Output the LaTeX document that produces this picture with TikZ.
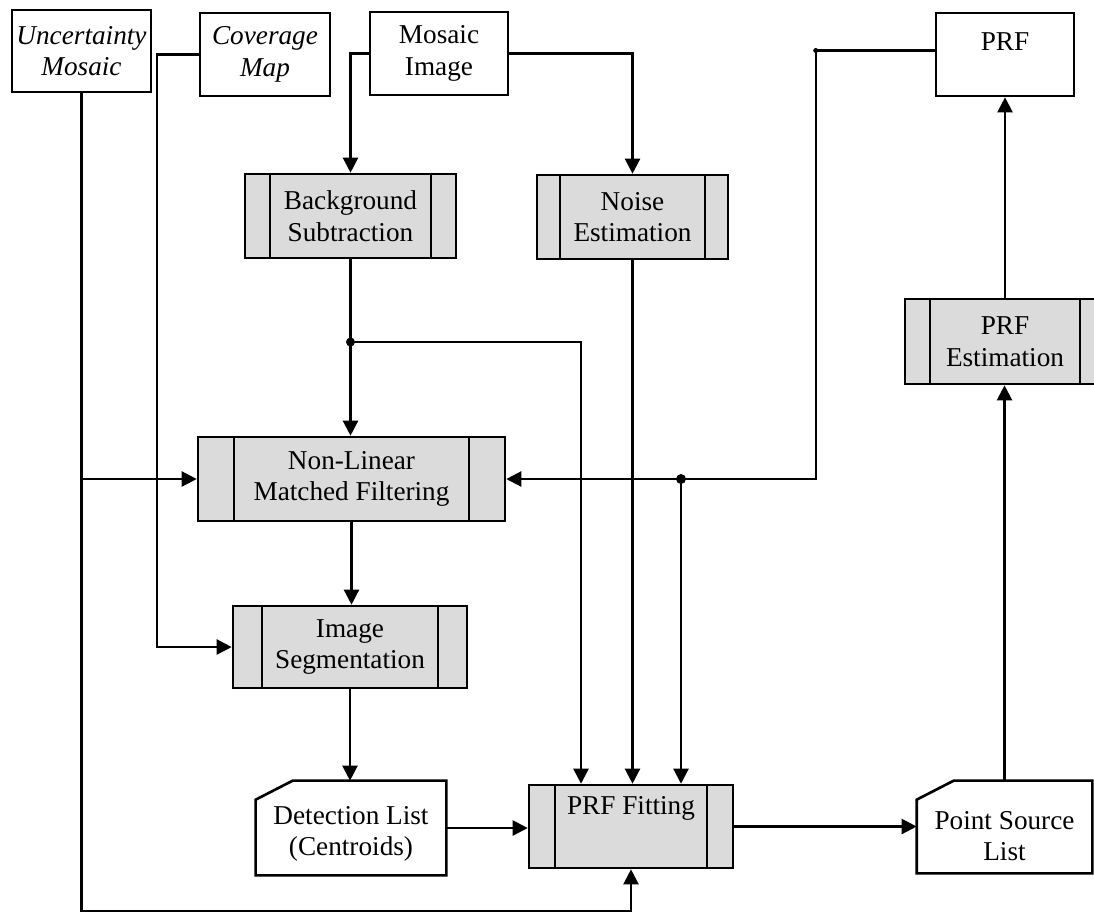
\documentclass[tikz,border=0pt]{standalone}
\usepackage{fontspec}
\setmainfont{Liberation Serif}
\usetikzlibrary{calc, arrows.meta}
\definecolor{boxgray}{gray}{0.86}
\newcommand{\boxfont}{\fontsize{15.5}{18}\selectfont}
\tikzset{
  sidebar/.store in=\sidebarw, sidebar=0.5cm,
  datbox/.style={draw, line width=1.5pt, fill=white, inner xsep=2pt, minimum width=2.76cm, minimum height=1.66cm, align=center},
  procbox/.style={draw, line width=1.5pt, fill=boxgray, minimum height=1.68cm, align=center,
    path picture={\draw[line width=1.5pt]
      ([xshift=\sidebarw]path picture bounding box.north west) -- ([xshift=\sidebarw]path picture bounding box.south west)
      ([xshift=-\sidebarw]path picture bounding box.north east) -- ([xshift=-\sidebarw]path picture bounding box.south east);}},
  docbox/.style={minimum width=3.8cm, minimum height=1.88cm},
  conn/.style={line width=1.3pt},
  arr/.style={conn, -{Triangle[length=0.3cm, width=0.3cm]}}
}
\begin{document}
\begin{tikzpicture}[x=0.02cm, y=-0.02cm, font=\boxfont]
  \useasboundingbox (0,0) rectangle (1094,914);
  \clip (0,0) rectangle (1094,914);
  % inputs
  \node[datbox, minimum width=2.78cm, minimum height=1.64cm, font=\boxfont\itshape] (unc) at (81.5,51) {Uncertainty\\Mosaic};
  \node[datbox, minimum width=2.6cm, font=\boxfont\itshape] (cov) at (265,54.5) {Coverage\\Map};
  \node[datbox] (mos) at (439,53.5) {Mosaic\\Image};
  \node[datbox, label={[yshift=0.25cm]center:PRF}] (prf) at (1005,54.5) {};
  % processes
  \node[procbox, minimum width=4.22cm] (bgs) at (350.5,216) {Background\\Subtraction};
  \node[procbox, minimum width=3.82cm, sidebar=0.46cm] (noi) at (632.5,217) {Noise\\Estimation};
  \node[procbox, minimum width=6.14cm, sidebar=0.72cm] (nlm) at (351.5,479) {Non-Linear\\Matched Filtering};
  \node[procbox, minimum width=4.68cm, minimum height=1.64cm, sidebar=0.58cm] (seg) at (350,647) {Image\\Segmentation};
  \node[procbox, minimum width=4.08cm, minimum height=1.66cm, sidebar=0.52cm, label={[yshift=0.37cm]center:PRF Fitting}] (fit) at (631,826.5) {};
  \node[procbox, minimum width=4cm, minimum height=1.7cm] (est) at (1005,341.5) {PRF\\Estimation};
  % lists
  \node[docbox, label={[align=center, yshift=-0.12cm]center:{Detection List\\(Centroids)}}] (det) at (351,828) {};
  \node[docbox, minimum width=3.5cm, minimum height=1.84cm, label={[align=center, yshift=-0.18cm]center:{Point Source\\List}}] (psl) at (1004.5,827) {};
  \foreach \n in {det,psl}{
    \draw[line width=1.5pt] ([yshift=-0.38cm]\n.north west) -- ([xshift=0.74cm]\n.north west) -- (\n.north east)
      -- (\n.south east) -- (\n.south west) -- cycle;
  }
  % junctions
  \coordinate (j1) at (bgs.south |- 0,342);
  \coordinate (j2) at ([xshift=1cm]fit.north |- nlm.east);
  \coordinate (k) at ([yshift=0.08cm]prf.west);
  % connectors
  \draw[arr] (unc.south) -- (unc.south |- 0,911) -| (fit.south);
  \draw[arr] (unc.south |- nlm.west) -- (nlm.west);
  \draw[arr] (cov.west) -- ++(-42,0) |- (seg.west);
  \draw[arr] (mos.west) -| (bgs.north);
  \draw[arr] (mos.east) -| (noi.north);
  \draw[arr] (bgs.south) -- (bgs.south |- nlm.north);
  \draw[arr] (j1) -| ([xshift=-1cm]fit.north);
  \draw[arr] (noi.south) -- (noi.south |- fit.north);
  \draw[arr] (k) -- ++(-119,0) |- (nlm.east);
  \draw[arr] (j2) -- ([xshift=1cm]fit.north);
  \draw[arr] (nlm.south) -- (nlm.south |- seg.north);
  \draw[arr] (seg.south) -- (seg.south |- det.north);
  \draw[arr] (det.east) -- (det.east -| fit.west);
  \draw[arr] (fit.east) -- (fit.east -| psl.west);
  \draw[arr] (psl.north) -- (psl.north |- est.south);
  \draw[arr] (est.north) -- (est.north |- prf.south);
  \fill (j1) circle (0.09cm);
  \fill (j2) circle (0.1cm);
  \fill ([xshift=-2.38cm]k) circle (0.05cm);
\end{tikzpicture}
\end{document}
